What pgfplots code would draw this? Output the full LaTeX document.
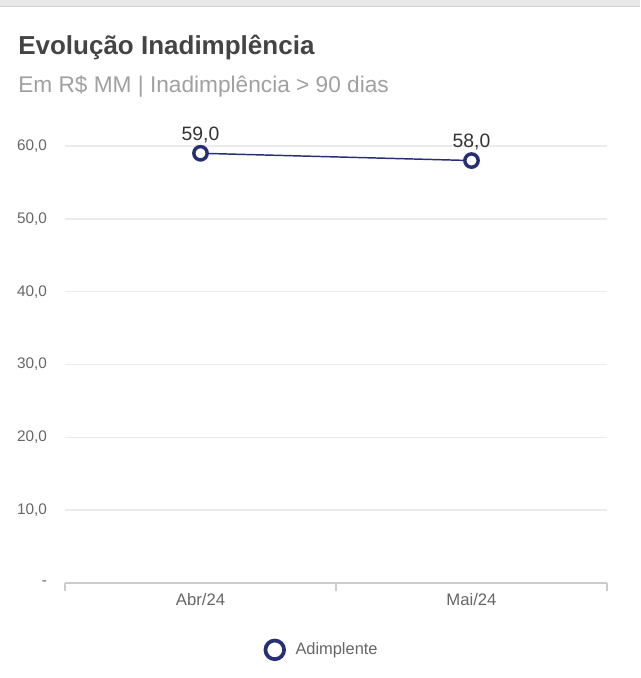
\documentclass[border=0pt]{standalone}
\usepackage{pgfplots}
\pgfplotsset{compat=1.18}
\usepackage{fontspec}
\setmainfont{Liberation Sans}
\definecolor{navy}{HTML}{283074}
\definecolor{gridc}{HTML}{EBEBEB}
\definecolor{axisc}{HTML}{CCCCCC}
\definecolor{tickc}{HTML}{666666}
\definecolor{titlec}{HTML}{444444}
\definecolor{subc}{HTML}{A0A0A0}
\begin{document}
% coordinates: 1 unit = 1 px of the reference, y measured from the bottom (678 - pixel row)
\begin{tikzpicture}[x=0.75pt,y=0.75pt]
\path[use as bounding box] (0,0) rectangle (640,678);
% top strip
\fill[gray!18] (0,672) rectangle (640,678);
\draw[gray!35] (0,671.5) -- (640,671.5);
\node[anchor=base west,inner sep=0,text=titlec,font=\fontsize{19.5pt}{22pt}\selectfont\bfseries] at (18,623) {Evolução Inadimplência};
\node[anchor=base west,inner sep=0,text=subc,font=\fontsize{17pt}{20pt}\selectfont] at (18,585) {Em R\$ MM | Inadimplência > 90 dias};
\begin{axis}[
    at={(65pt*0.75,95pt*0.75)}, anchor=south west,
    scale only axis,
    width=406.5pt, height=327.75pt,
    xmin=0, xmax=2, ymin=0, ymax=60,
    clip=false,
    axis x line*=bottom,
    axis y line*=left,
    x axis line style={axisc, line width=1.2pt, -},
    y axis line style={draw=none},
    xtick={0,1,2}, xticklabels={},
    tick align=outside,
    major tick length=6pt,
    xtick style={axisc, line width=1pt},
    ytick style={draw=none},
    extra x ticks={0.5,1.5},
    extra x tick labels={Abr/24,Mai/24},
    extra x tick style={major tick length=0pt, grid=none},
    xticklabel style={text=tickc, font=\fontsize{12.5pt}{14pt}\selectfont, yshift=-4pt},
    ytick={0,10,20,30,40,50,60},
    yticklabels={-,{10,0},{20,0},{30,0},{40,0},{50,0},{60,0}},
    yticklabel style={text=tickc, font=\fontsize{11.5pt}{13pt}\selectfont, xshift=-4pt},
    ymajorgrids,
    grid style={gridc, line width=1.1pt},
    /pgf/number format/assume math mode=true,
    legend style={at={(0.474,-0.153)}, anchor=center, draw=none,
        font=\fontsize{12.3pt}{14pt}\selectfont, text=tickc},
    legend image code/.code={
        \draw[navy, line width=2.8pt, fill=white] (0pt,0pt) circle (7pt);
        \path (13pt,0pt);
    },
]
\addplot[navy, line width=1.1pt, mark=*, mark size=5pt,
    mark options={fill=white, draw=navy, line width=2.6pt},
    nodes near coords,
    every node near coord/.append style={text=black!80, anchor=south,
        yshift=3pt, font=\fontsize{14.5pt}{16pt}\selectfont},
    point meta=explicit symbolic]
    coordinates {(0.5,59) [59,0] (1.5,58) [58,0]};
\addlegendentry{Adimplente}
\end{axis}
\end{tikzpicture}
\end{document}
